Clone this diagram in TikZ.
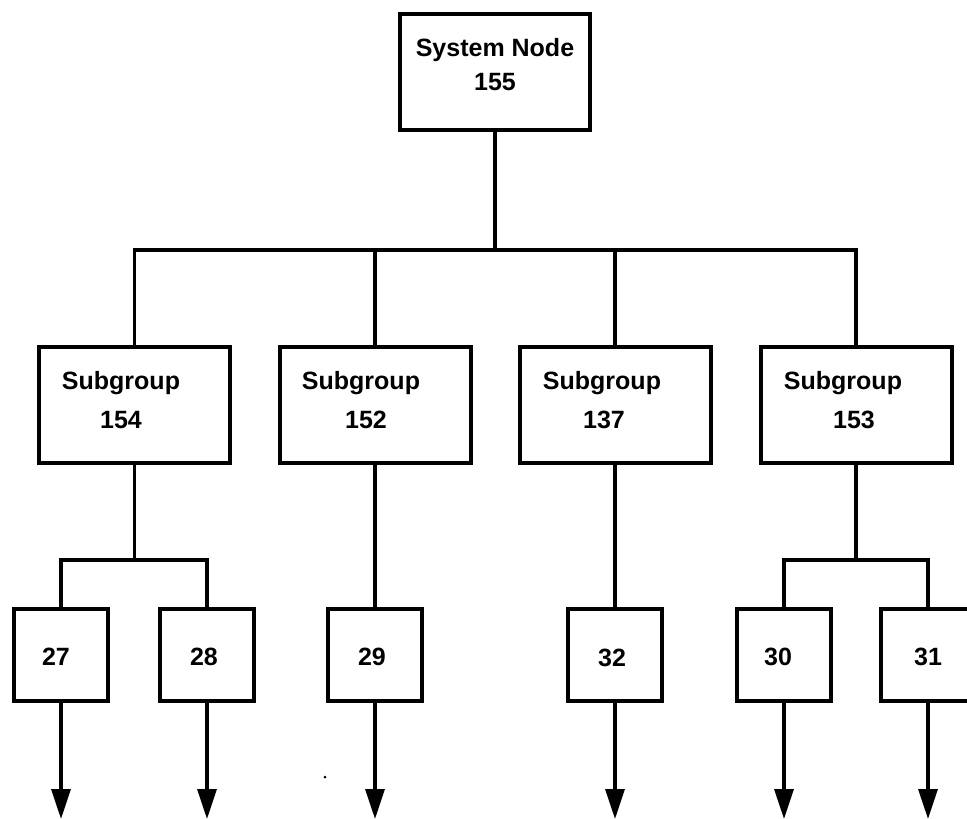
\documentclass[tikz,border=0pt]{standalone}
\usepackage{fontspec}
\setmainfont{Liberation Sans}
\usetikzlibrary{arrows.meta,calc}
\begin{document}
\begin{tikzpicture}[x=1pt,y=-1pt,
  txt/.style={font=\fontsize{25}{30}\selectfont\bfseries, inner sep=0pt, anchor=center},
  bigbox/.style={draw, line width=4pt, minimum width=191pt, minimum height=116pt, inner sep=0pt},
  leafbox/.style={draw, line width=4pt, minimum width=94pt, minimum height=92pt, inner sep=0pt},
  conn/.style={line width=3.4pt},
  outarrow/.style={conn, -{Triangle[width=19pt,length=30pt]}}]
\useasboundingbox (0,0) rectangle (967,819);
\clip (0,0) rectangle (967,819);
% system node
\node[bigbox, minimum width=190pt] (sys) at (495,72) {};
\node[txt] (sysA) at (495,50) {System Node};
\node[txt] (sysB) at (495,82) {155};
% subgroups
\node[bigbox] (s154) at (134.5,405) {};
\node[bigbox] (s152) at (375,405) {};
\node[bigbox] (s137) at (615,405) {};
\node[bigbox] (s153) at (856,405) {};
\node[txt] (t154a) at (121,383) {Subgroup};
\node[txt] (t154b) at (121,420) {154};
\node[txt] (t152a) at (361,383) {Subgroup};
\node[txt] (t152b) at (366,420) {152};
\node[txt] (t137a) at (602,383) {Subgroup};
\node[txt] (t137b) at (604,420) {137};
\node[txt] (t153a) at (843,383) {Subgroup};
\node[txt] (t153b) at (854,420) {153};
% leaves
\node[leafbox] (l27) at (61,655) {};
\node[leafbox] (l28) at (207,655) {};
\node[leafbox] (l29) at (375,655) {};
\node[leafbox] (l32) at (615,655) {};
\node[leafbox] (l30) at (784,655) {};
\node[leafbox] (l31) at (928,655) {};
\node[txt] (n27) at (56,657) {27};
\node[txt] (n28) at (204,657) {28};
\node[txt] (n29) at (372,657) {29};
\node[txt] (n32) at (612,658) {32};
\node[txt] (n30) at (778,657) {30};
\node[txt] (n31) at (928,657) {31};
% bus coordinates
\coordinate (busM) at (495,250);
\coordinate (subA) at (134.5,560);
\coordinate (subB) at (856,560);
% top level connectors
\draw[conn] (sys.south) -- (busM);
\draw[conn] (s154.north) -- (s154.north |- busM) -- (s153.north |- busM) -- (s153.north);
\draw[conn] (s152.north) -- (s152.north |- busM);
\draw[conn] (s137.north) -- (s137.north |- busM);
% second level connectors
\draw[conn] (s154.south) -- (subA);
\draw[conn] (l27.north) -- (l27.north |- subA) -- (l28.north |- subA) -- (l28.north);
\draw[conn] (s152.south) -- (l29.north);
\draw[conn] (s137.south) -- (l32.north);
\draw[conn] (s153.south) -- (subB);
\draw[conn] (l30.north) -- (l30.north |- subB) -- (l31.north |- subB) -- (l31.north);
% outgoing arrows
\foreach \n in {l27,l28,l29,l32,l30,l31}{
  \coordinate (\n-end) at ($(\n.south)+(0,116)$);
  \draw[outarrow] (\n.south) -- (\n-end);
}
\fill (325,777) circle (1.5pt);
\end{tikzpicture}
\end{document}
